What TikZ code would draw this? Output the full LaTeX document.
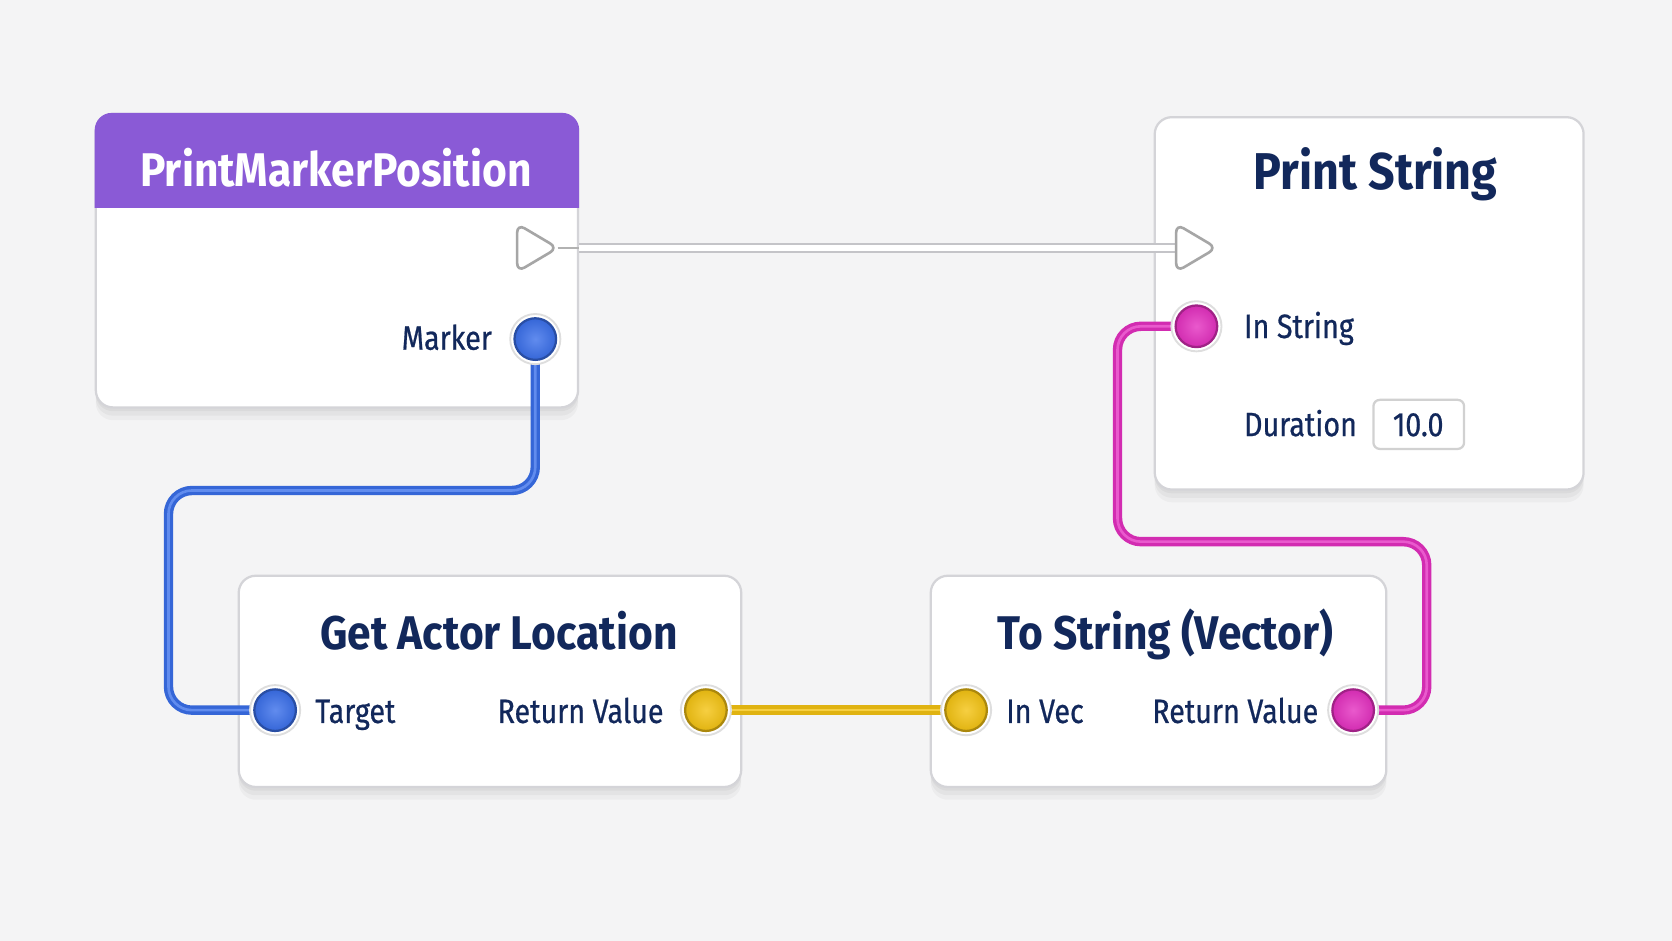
\documentclass[tikz,border=0pt]{standalone}
\usepackage{fontspec}
\setmainfont{Fira Sans}[FakeStretch=0.85]
\newfontfamily\titlefont{Fira Sans}[FakeStretch=0.9]
\newfontfamily\lblfont{Fira Sans}[FakeStretch=0.85, FakeBold=0.6]
\definecolor{bg}{HTML}{F4F4F5}
\definecolor{navy}{HTML}{12285B}
\definecolor{hdr}{HTML}{8A5AD6}
\definecolor{pinblue}{HTML}{3A6FEA}
\definecolor{pinyellow}{HTML}{F4C312}
\definecolor{pinpink}{HTML}{E430C0}
\definecolor{boxline}{HTML}{D4D4D8}
\definecolor{execline}{HTML}{C4C4C8}
\pgfdeclarelayer{boxes}
\pgfdeclarelayer{wires}
\pgfsetlayers{boxes,wires,main}
\begin{document}
\begin{tikzpicture}[x=0.01cm,y=-0.01cm,
  card/.style={draw=boxline, line width=0.6pt, fill=white, rounded corners=0.16cm, inner sep=0pt,
    preaction={fill=black, opacity=0.035, transform canvas={yshift=-1pt}},
    preaction={fill=black, opacity=0.035, transform canvas={yshift=-2.2pt}},
    preaction={fill=black, opacity=0.03, transform canvas={yshift=-3.4pt}}},
  title/.style={font=\titlefont\bfseries\fontsize{12.6}{14}\selectfont, text=navy, anchor=base, inner sep=0pt},
  lbl/.style={font=\lblfont\fontsize{9}{11}\selectfont, text=navy, inner sep=0pt},
  halo/.style={circle, minimum size=0.47cm, inner sep=0pt, fill=white, draw=black!13, line width=0.5pt},
  pin/.style={circle, minimum size=0.39cm, inner sep=0pt, draw=#1!70!black, line width=0.6pt,
    shading=radial, inner color=#1!80!white, outer color=#1!92!black},
  wire/.style={draw=#1!92!black, line width=2.5pt, rounded corners=0.22cm, line cap=round,
    postaction={draw=#1!80!white, line width=0.7pt}},
  execwire/.style={draw=execline, line width=2.7pt, postaction={draw=white, line width=1.6pt}},
  execpin/.style={draw=black!35, fill=white, line width=0.7pt, rounded corners=0.08cm, line join=round},
  valbox/.style={draw=black!18, fill=white, line width=0.6pt, rounded corners=0.06cm,
    minimum width=0.85cm, minimum height=0.46cm, inner sep=0pt}
]
\useasboundingbox (0,0) rectangle (1568,882.4);

\begin{pgfonlayer}{boxes}
\fill[bg] (0,0) rectangle (1568,882.4);
\node[card, minimum width=4.52cm, minimum height=2.75cm] (pmp) at (316,244.5) {};
\begin{scope}
\clip[rounded corners=0.16cm] (pmp.north west) rectangle (pmp.south east);
\fill[hdr] ([xshift=-1pt,yshift=1pt]pmp.north west) rectangle ([xshift=1pt,yshift=-0.89cm]pmp.north east);
\end{scope}
\node[card, minimum width=4.02cm, minimum height=3.49cm] (ps) at (1284,284.5) {};
\node[card, minimum width=4.71cm, minimum height=1.98cm] (gal) at (459.5,639) {};
\node[card, minimum width=4.27cm, minimum height=1.98cm] (tsv) at (1086.5,639) {};
\end{pgfonlayer}

% titles
\node[title, text=white] (t1) at (315,174.5) {PrintMarkerPosition};
\node[title, font=\titlefont\bfseries\fontsize{13.8}{15}\selectfont] (t2) at (1290,178) {Print String};
\node[title] (t3) at (468,609.5) {Get Actor Location};
\node[title] (t4) at (1093,609.5) {To String (Vector)};

% labels
\node[lbl, anchor=base east] (l1) at (462,328) {Marker};
\node[lbl, anchor=base west] (l2) at (1166,317) {In String};
\node[lbl, anchor=base west] (l3) at (1166,409) {Duration};
\node[valbox] (vb) at (1330.5,398) {};
\node[lbl, anchor=base] (l4) at (1330,409) {10.0};
\node[lbl, anchor=base west] (l5) at (295,678) {Target};
\node[lbl, anchor=base east] (l6) at (623,678) {Return Value};
\node[lbl, anchor=base west] (l7) at (943,678) {In Vec};
\node[lbl, anchor=base east] (l8) at (1237,678) {Return Value};

% exec pins
\coordinate (eo) at (523,232.5);
\coordinate (ei) at (1103,232.5);
\coordinate (ee) at (pmp.east |- eo);

% data pins
\node[halo] (h1) at (502,318) {};
\node[pin=pinblue] (mk) at (502,318) {};
\node[halo] (h2) at (1122,306) {};
\node[pin=pinpink] (is) at (1122,306) {};
\node[halo] (h3) at (258,666) {};
\node[pin=pinblue] (tg) at (258,666) {};
\node[halo] (h4) at (662,666) {};
\node[pin=pinyellow] (rv1) at (662,666) {};
\node[halo] (h5) at (906,666) {};
\node[pin=pinyellow] (iv) at (906,666) {};
\node[halo] (h6) at (1269,666) {};
\node[pin=pinpink] (rv2) at (1269,666) {};

\begin{pgfonlayer}{wires}
\draw[black!30, line width=0.6pt] (eo) -- (ee);
\draw[execwire] (ee) -- (ei);
\draw[wire=pinblue] (mk.center) |- (158,460) |- (tg.center);
\draw[wire=pinyellow] (rv1.center) -- (iv.center);
\draw[wire=pinpink] (rv2.center) -| (1338,508) -| (1048,306) -- (is.center);
\end{pgfonlayer}

\draw[execpin] (485,210) -- (eo) -- (485,255) -- cycle;
\draw[execpin] (ei |- 0,210) -- (1141,232.5) -- (ei |- 0,255) -- cycle;
\end{tikzpicture}
\end{document}
